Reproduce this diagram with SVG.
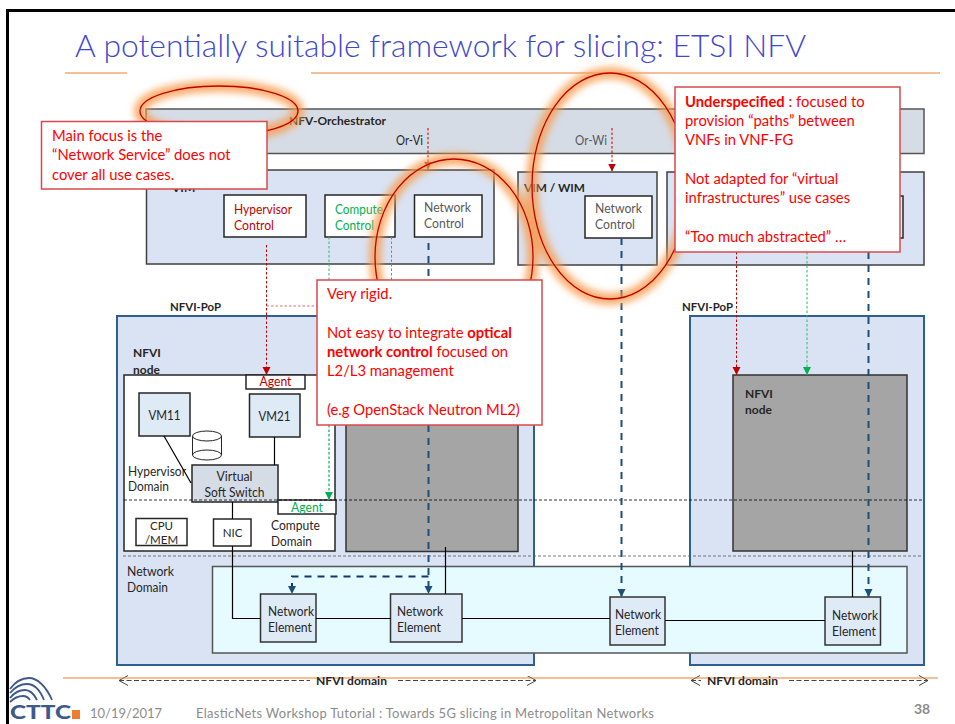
<svg xmlns="http://www.w3.org/2000/svg" width="955" height="724" viewBox="0 0 955 724">
<style>
text{font-family:Lato,"Liberation Sans",sans-serif;font-size:13px;fill:#262626}
.b{font-weight:700;font-size:12px}
.nfv{fill:#d6dce5;stroke:#555;stroke-width:1.5}
.vim{fill:#dae3f3;stroke:#404040;stroke-width:1.5}
.pop{fill:#dae3f3;stroke:#2e5f8e;stroke-width:2}
.w{fill:#fff;stroke:#262626;stroke-width:1.5}
.vm{fill:#deeaf6;stroke:#262626;stroke-width:1.5}
.ne{fill:#deeaf6;stroke:#333;stroke-width:1.5}
.grey{fill:#a5a5a5;stroke:#333;stroke-width:1.5}
.call{fill:#fff;stroke:#d9484c;stroke-width:1.5}
.ct{fill:#f00;font-size:14.800px}
.ctb{font-weight:700}
.foot{fill:#8c8c8c;font-size:13px}
.l{fill:none;stroke:#000;stroke-width:1.200}
.blue{fill:none;stroke:#1f4e79;stroke-width:2;stroke-dasharray:7 6}
.red{fill:none;stroke:#c00000;stroke-width:1;stroke-dasharray:2.5 2}
.pink{fill:none;stroke:#e06a6a;stroke-width:1.200;stroke-dasharray:2.5 2}
.green{fill:none;stroke:#2fb56b;stroke-width:1;stroke-dasharray:2.5 2}
.dom{fill:none;stroke:#444;stroke-width:1;stroke-dasharray:5 2.5}
.oline{fill:none;stroke:#ed7d31}
.glow{fill:none;stroke:#f79a4a;stroke-width:12;opacity:.8}
.ring{fill:none;stroke:#c00000;stroke-width:1.300}
.arc{fill:none;stroke:#3e5a8c;stroke-width:1.800}
</style>
<defs>
<filter id="blur" x="-20%" y="-20%" width="140%" height="140%"><feGaussianBlur stdDeviation="3.500"/></filter>
<marker id="mr" markerUnits="userSpaceOnUse" markerWidth="9" markerHeight="9" refX="8" refY="4" orient="auto"><path d="M0 0L8 4L0 8Z" fill="#c00000"/></marker>
<marker id="mg" markerUnits="userSpaceOnUse" markerWidth="9" markerHeight="9" refX="8" refY="4" orient="auto"><path d="M0 0L8 4L0 8Z" fill="#00b050"/></marker>
<marker id="mb" markerUnits="userSpaceOnUse" markerWidth="9" markerHeight="9" refX="8" refY="4" orient="auto"><path d="M0 0L8 4L0 8Z" fill="#1f4e79"/></marker>
<marker id="open" markerUnits="userSpaceOnUse" markerWidth="12" markerHeight="12" refX="9" refY="5" orient="auto-start-reverse"><path d="M0 0L9 5L0 10" fill="none" stroke="#444"/></marker>
<clipPath id="logoClip"><rect x="9" y="670" width="80" height="54"/></clipPath>
</defs>
<rect width="955" height="724" fill="#fff"/>
<path d="M955 10.5H7.5V724" fill="none" stroke="#000" stroke-width="3"/>
<g id="title">
<text x="75" y="56.500" style="font-size:32px;font-weight:300;fill:#3f48cc" textLength="731" lengthAdjust="spacingAndGlyphs">A potentially suitable framework for slicing: ETSI NFV</text>
<path class="oline" d="M65 73H127M311 73H940"/>
</g>
<g id="orchestrator">
<rect class="nfv" x="146" y="109" width="778" height="44.500"/>
<text class="b" x="289" y="125" textLength="97" lengthAdjust="spacingAndGlyphs">NFV-Orchestrator</text>
<text x="396" y="145" textLength="27" lengthAdjust="spacingAndGlyphs">Or-Vi</text>
<text x="575" y="145" style="fill:#595959" textLength="32" lengthAdjust="spacingAndGlyphs">Or-Wi</text>
</g>
<g id="vim">
<rect class="vim" x="146.500" y="170" width="347.500" height="94"/>
<text class="b" x="172" y="192">VIM</text>
</g>
<g id="hypervisor-control">
<rect class="w" x="224" y="195" width="82" height="42"/>
<text x="234" y="214" style="fill:#c00000" textLength="58" lengthAdjust="spacingAndGlyphs">Hypervisor</text><text x="234" y="230" style="fill:#c00000" textLength="40" lengthAdjust="spacingAndGlyphs">Control</text>
</g>
<g id="compute-control">
<rect class="w" x="325" y="195" width="70" height="42"/>
<text x="335" y="214" style="fill:#00b050" textLength="48" lengthAdjust="spacingAndGlyphs">Compute</text><text x="335" y="230" style="fill:#00b050" textLength="39" lengthAdjust="spacingAndGlyphs">Control</text>
</g>
<g id="network-control-1">
<rect class="w" x="414.500" y="195" width="67.500" height="42"/>
<text x="424" y="212" style="fill:#595959" textLength="47" lengthAdjust="spacingAndGlyphs">Network</text><text x="424" y="228" style="fill:#595959" textLength="40" lengthAdjust="spacingAndGlyphs">Control</text>
</g>
<g id="vim-wim">
<rect class="vim" x="518" y="172" width="139" height="93"/>
<text class="b" x="524" y="192" textLength="61" lengthAdjust="spacingAndGlyphs">VIM / WIM</text>
</g>
<g id="network-control-2">
<rect class="w" x="585" y="196" width="67" height="42"/>
<text x="595" y="213" style="fill:#595959" textLength="47" lengthAdjust="spacingAndGlyphs">Network</text><text x="595" y="229" style="fill:#595959" textLength="40" lengthAdjust="spacingAndGlyphs">Control</text>
</g>
<g id="vim-right">
<rect class="vim" x="667" y="172" width="257" height="93"/>
<rect class="w" x="836" y="196" width="67" height="42"/>
</g>
<g id="nfvi-pop-left">
<rect class="pop" x="117" y="316" width="417" height="349"/>
<text class="b" x="170" y="311" textLength="51" lengthAdjust="spacingAndGlyphs">NFVI-PoP</text>
<text class="b" x="133" y="357">NFVI</text>
<text class="b" x="133" y="374">node</text>
</g>
<g id="nfvi-pop-right">
<rect class="pop" x="690" y="316" width="234" height="349"/>
<text class="b" x="682" y="311" textLength="51" lengthAdjust="spacingAndGlyphs">NFVI-PoP</text>
</g>
<g id="nfvi-node-1">
<rect class="w" x="124" y="375" width="211" height="176"/>
<text x="128" y="476" textLength="58" lengthAdjust="spacingAndGlyphs">Hypervisor</text><text x="128" y="491" textLength="41" lengthAdjust="spacingAndGlyphs">Domain</text>
<text x="271" y="530" textLength="49" lengthAdjust="spacingAndGlyphs">Compute</text><text x="271" y="546" textLength="41" lengthAdjust="spacingAndGlyphs">Domain</text>
</g>
<g id="nfvi-node-2"><rect class="grey" x="346" y="375" width="172" height="176.500"/></g>
<g id="nfvi-node-3">
<rect class="grey" x="733" y="375" width="174" height="176"/>
<text class="b" x="745" y="398">NFVI</text>
<text class="b" x="745" y="414">node</text>
</g>
<g id="agent-red">
<rect class="w" x="246" y="375" width="59" height="14"/>
<text x="259.500" y="386" style="fill:#c00000" textLength="32" lengthAdjust="spacingAndGlyphs">Agent</text>
</g>
<g id="vm11"><rect class="vm" x="139" y="393" width="51" height="43"/><text x="148.500" y="420" textLength="32" lengthAdjust="spacingAndGlyphs">VM11</text></g>
<g id="vm21"><rect class="vm" x="249.500" y="394" width="50.500" height="43"/><text x="258.500" y="421" textLength="32" lengthAdjust="spacingAndGlyphs">VM21</text></g>
<g id="storage">
<path d="M192.500 436V455A14.500 5 0 0 0 221.500 455V436" fill="#fff" stroke="#262626"/>
<ellipse cx="207" cy="436" rx="14.500" ry="5" fill="#fff" stroke="#262626"/>
<path d="M192.500 455A14.500 5 0 0 1 221.500 455" fill="none" stroke="#262626"/>
</g>
<g id="soft-switch">
<rect class="nfv" style="stroke:#262626" x="192" y="465" width="86" height="37"/>
<text x="216.500" y="481" textLength="36" lengthAdjust="spacingAndGlyphs">Virtual</text><text x="204.500" y="497" textLength="60" lengthAdjust="spacingAndGlyphs">Soft Switch</text>
</g>
<g id="cpu"><rect class="w" x="136" y="518.500" width="51" height="27"/>
<text x="161.500" y="530" text-anchor="middle" style="font-size:11.500px">CPU</text><text x="161.500" y="544" text-anchor="middle" style="font-size:11.500px">/MEM</text></g>
<g id="nic"><rect class="w" x="213.500" y="519" width="37.500" height="27"/><text x="232.500" y="537" text-anchor="middle" style="font-size:11.500px">NIC</text></g>
<g id="agent-green">
<rect class="w" x="278" y="500" width="58" height="14"/>
<text x="291" y="512" style="fill:#00b050" textLength="32" lengthAdjust="spacingAndGlyphs">Agent</text>
</g>
<g id="network-domain">
<text x="127" y="576" textLength="47" lengthAdjust="spacingAndGlyphs">Network</text><text x="127" y="592" textLength="41" lengthAdjust="spacingAndGlyphs">Domain</text>
<rect x="212.500" y="566.500" width="694.500" height="86.500" fill="#e5fbff" stroke="#555" stroke-width="1.500"/>
</g>
<g id="ne1"><rect class="ne" x="260.500" y="594" width="55.500" height="48"/><text x="268" y="616" textLength="46" lengthAdjust="spacingAndGlyphs">Network</text><text x="268" y="632" textLength="44" lengthAdjust="spacingAndGlyphs">Element</text></g>
<g id="ne2"><rect class="ne" x="390.500" y="594" width="71.500" height="48"/><text x="397" y="616" textLength="46" lengthAdjust="spacingAndGlyphs">Network</text><text x="397" y="632" textLength="44" lengthAdjust="spacingAndGlyphs">Element</text></g>
<g id="ne3"><rect class="ne" x="610" y="597" width="55" height="48"/><text x="615" y="619" textLength="46" lengthAdjust="spacingAndGlyphs">Network</text><text x="615" y="635" textLength="44" lengthAdjust="spacingAndGlyphs">Element</text></g>
<g id="ne4"><rect class="ne" x="825" y="597" width="55.500" height="48"/><text x="832" y="620" textLength="46" lengthAdjust="spacingAndGlyphs">Network</text><text x="832" y="636" textLength="44" lengthAdjust="spacingAndGlyphs">Element</text></g>
<g id="connectors">
<path d="M124 500H924" fill="none" stroke="#000" stroke-width=".8" stroke-dasharray="3 2"/>
<path d="M123 556H924" fill="none" stroke="#555" stroke-width=".8" stroke-dasharray="3 2"/>
<path class="l" d="M164 436L191 483M274.500 437V465M232.500 502V519M232.500 546V618.500H260.500M316 618.500H390.500M462 618.500H610M665 620.500H825M445.500 547V594M852.500 551V597"/>
<path class="red" d="M428 128V169.500" marker-end="url(#mr)"/>
<path class="red" d="M612 128V171.500" marker-end="url(#mr)"/>
<path class="red" d="M266.500 245V375" marker-end="url(#mr)"/>
<path class="pink" d="M266.500 306H317"/>
<path class="red" d="M736.500 252V375" marker-end="url(#mr)"/>
<path class="green" d="M329 237V280M391.500 237V280"/>
<path d="M329 425V500" fill="none" stroke="#66d08f" stroke-width="2" stroke-dasharray="2.500 2" marker-end="url(#mg)"/>
<path class="green" d="M807 252V375" marker-end="url(#mg)"/>
<path class="blue" d="M428.500 243V594" marker-end="url(#mb)"/>
<path class="blue" style="stroke:#12376b" d="M428.500 576.500H292V594" marker-end="url(#mb)"/>
<path class="blue" d="M621.500 238V597" marker-end="url(#mb)"/>
<path class="blue" d="M868.500 252V597" marker-end="url(#mb)"/>
<path class="dom" d="M119 680.500H310M398 680.500H536" marker-start="url(#open)" marker-end="url(#open)"/>
<path class="dom" d="M691 680.500H701M789 680.500H928"/>
<path d="M700 675.500L691 680.500L700 685.500M919 675.500L928 680.500L919 685.500" fill="none" stroke="#444"/>
</g>
<g id="domain-labels">
<path class="oline" d="M63 678H938"/>
<text class="b" x="316" y="685" textLength="71" lengthAdjust="spacingAndGlyphs">NFVI domain</text>
<text class="b" x="707" y="685" textLength="71" lengthAdjust="spacingAndGlyphs">NFVI domain</text>
</g>
<g id="rings">
<g filter="url(#blur)">
<ellipse class="glow" cx="219" cy="111" rx="79" ry="25"/>
<ellipse class="glow" cx="454" cy="257" rx="79" ry="98"/>
<ellipse class="glow" cx="610" cy="186" rx="78" ry="113"/>
</g>
<ellipse class="ring" cx="219" cy="111" rx="79" ry="25"/>
<ellipse class="ring" cx="454" cy="257" rx="79" ry="98"/>
<ellipse class="ring" cx="610" cy="186" rx="78" ry="113"/>
</g>
<g id="callout-main-focus">
<rect class="call" x="41.500" y="121.500" width="225.500" height="67.500"/>
<text class="ct" x="52" y="141">Main focus is the</text>
<text class="ct" x="52" y="160">“Network Service” does not</text>
<text class="ct" x="52" y="180">cover all use cases.</text>
</g>
<g id="callout-rigid">
<rect class="call" x="317" y="280" width="225" height="145"/>
<text class="ct" x="327" y="299">Very rigid.</text>
<text class="ct" x="327" y="338">Not easy to integrate <tspan class="ctb">optical</tspan></text>
<text class="ct" x="327" y="357"><tspan class="ctb">network control</tspan> focused on</text>
<text class="ct" x="327" y="376">L2/L3 management</text>
<text class="ct" x="327" y="415">(e.g OpenStack Neutron ML2)</text>
</g>
<g id="callout-underspecified">
<rect class="call" x="675" y="87" width="225" height="165"/>
<text class="ct" x="685" y="107"><tspan class="ctb">Underspecified</tspan> : focused to</text>
<text class="ct" x="685" y="126">provision “paths” between</text>
<text class="ct" x="685" y="145">VNFs in VNF-FG</text>
<text class="ct" x="685" y="184">Not adapted for “virtual</text>
<text class="ct" x="685" y="203">infrastructures” use cases</text>
<text class="ct" x="685" y="242">“Too much abstracted” …</text>
</g>
<g id="footer">
<g clip-path="url(#logoClip)">
<path class="arc" d="M52 700C46 686 37 678 29 678C22 678 15 682 10 689"/>
<path class="arc" d="M44 700C40 690 34 684 27 684C21 684 15 687 10 693"/>
<path class="arc" d="M37 700C34 694 30 690 25 690C20 690 14 693 10 698"/>
<path class="arc" d="M30 700C28 697 26 696 23 696C19 696 14 698 10 702"/>
</g>
<text x="10" y="719" style="font-size:18px;font-weight:900;fill:#3e5a8c" textLength="61" lengthAdjust="spacingAndGlyphs">CTTC</text>
<rect x="72" y="710" width="8" height="9" fill="#ed7d31"/>
<text class="foot" x="90" y="718">10/19/2017</text>
<text class="foot" x="196" y="718" textLength="458">ElasticNets Workshop Tutorial : Towards 5G slicing in Metropolitan Networks</text>
<text x="914" y="714" style="font-size:14px;font-weight:700;fill:#8c8c8c">38</text>
</g>
</svg>
